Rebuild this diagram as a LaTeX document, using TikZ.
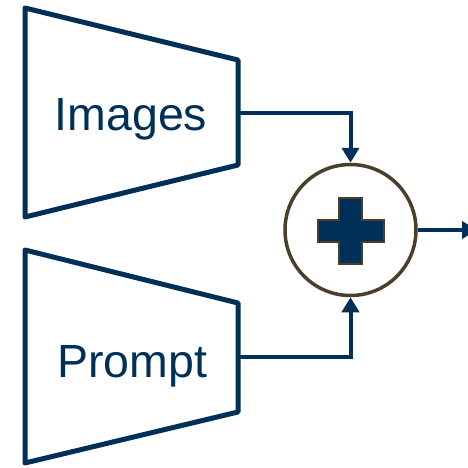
\documentclass[tikz,border=0pt]{standalone}
\usepackage{fontspec}
\setmainfont{Liberation Sans}
\usetikzlibrary{arrows.meta}
\definecolor{navy}{RGB}{0,48,87}
\definecolor{brownish}{RGB}{74,64,42}
\begin{document}
\begin{tikzpicture}[x=1pt,y=-1pt,
  enc/.style={draw=navy,line width=5pt,line join=round},
  lbl/.style={text=navy,font=\fontsize{46.5}{50}\selectfont,anchor=base,inner sep=0pt},
  conn/.style={draw=navy,line width=4pt,-{Triangle[width=17pt,length=15pt]}}]
\useasboundingbox (0,0) rectangle (467,468);
\draw[enc] (25,8) -- (238,60) -- (238,165) -- (25,217) -- cycle;
\draw[enc] (25,250) -- (238,303) -- (238,412) -- (25,463) -- cycle;
\node[lbl] (img) at (131,130) {Images};
\node[lbl] (prm) at (132,377) {Prompt};
\coordinate (imgout) at (238,113);
\coordinate (prmout) at (238,357);
\node[circle,draw=brownish,line width=3.5pt,minimum size=131pt,inner sep=0pt] (sum) at (350.5,230) {};
\filldraw[fill=navy,draw=brownish,line width=1.5pt]
  (339,198) -- (362,198) -- (362,220) -- (384,220) -- (384,242) -- (362,242)
  -- (362,264) -- (339,264) -- (339,242) -- (318,242) -- (318,220) -- (339,220) -- cycle;
\coordinate (out) at (477,230);
\draw[conn] (imgout) -| (sum.north);
\draw[conn] (prmout) -| (sum.south);
\draw[conn] (sum.east) -- (out);
\end{tikzpicture}
\end{document}
